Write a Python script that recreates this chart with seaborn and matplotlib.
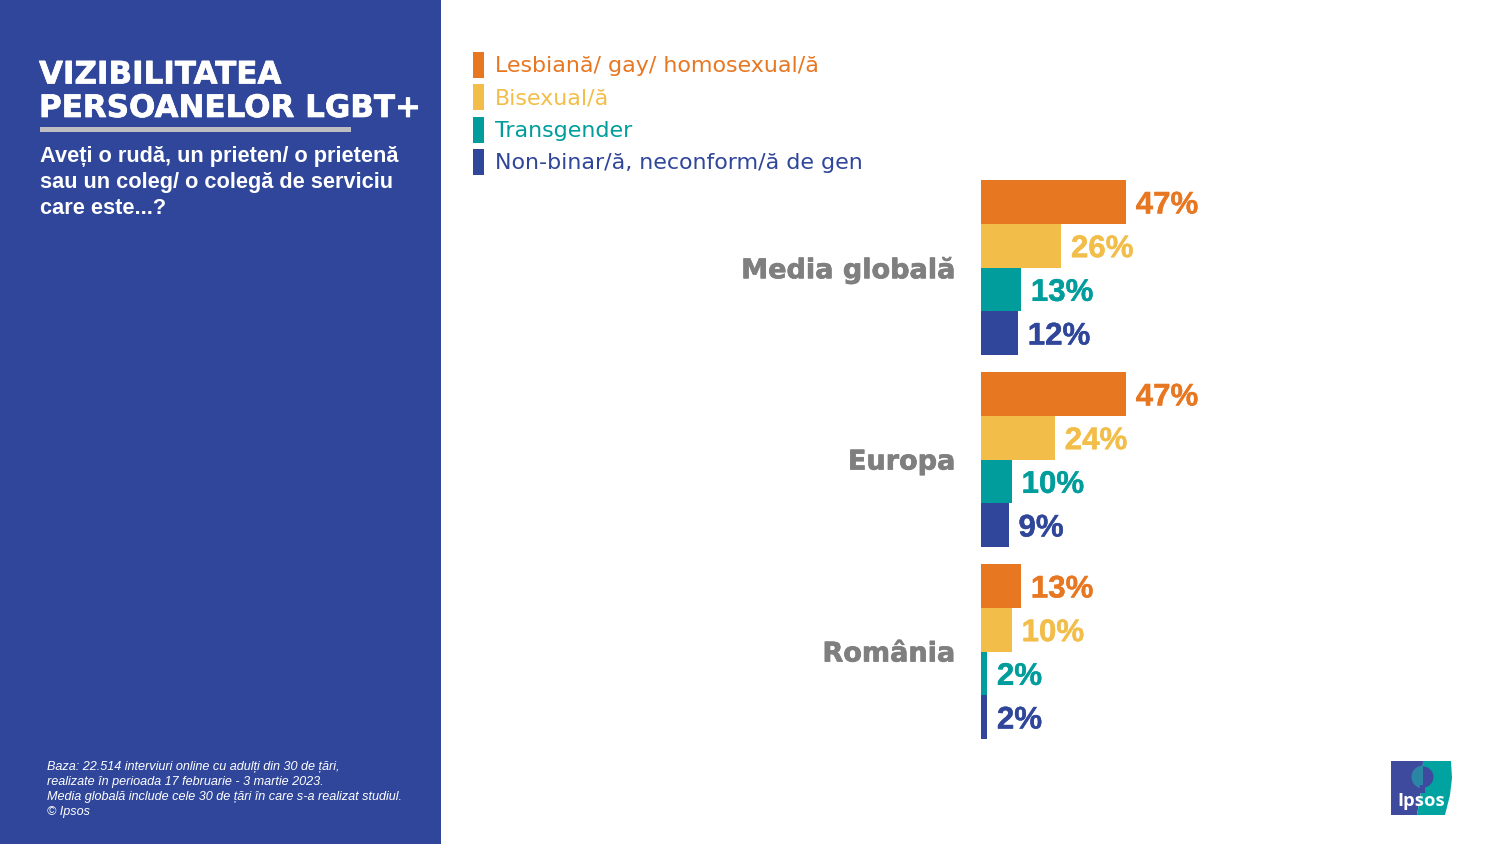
import matplotlib
matplotlib.use("Agg")
import matplotlib.pyplot as plt
import matplotlib.patheffects as pe
from matplotlib.patches import Rectangle, Polygon, Ellipse, Wedge
import pandas as pd
import seaborn as sns

regions = ["Media globală", "Europa", "România"]
identities = ["Lesbiană/ gay/ homosexual/ă", "Bisexual/ă", "Transgender", "Non-binar/ă, neconform/ă de gen"]
lesbian_gay = [47, 47, 13]
bisexual = [26, 24, 10]
transgender = [13, 10, 2]
non_binary = [12, 9, 2]
palette = ["#E87722", "#F2BE49", "#009D9C", "#2F469A"]
PANEL = "#2F469A"
GREY = "#7F7F7F"

W, H = 1500, 844
sns.set_theme(style="white")
plt.rcParams["font.family"] = ["Liberation Sans", "DejaVu Sans"]

df = pd.DataFrame({
    "region": regions * 4,
    "identity": [i for i in identities for _ in regions],
    "value": lesbian_gay + bisexual + transgender + non_binary,
})

fig = plt.figure(figsize=(15, 8.44), dpi=100, facecolor="white")

def px_axes(x0, y0, x1, y1, **kw):
    return fig.add_axes([x0 / W, 1 - y1 / H, (x1 - x0) / W, (y1 - y0) / H], **kw)

bg = px_axes(0, 0, W, H)
bg.set_xlim(0, W); bg.set_ylim(H, 0); bg.axis("off")
bg.add_patch(Rectangle((0, 0), 441, H, color=PANEL, lw=0))
bg.add_patch(Rectangle((39.5, 126.5), 311.5, 5.5, color="#BDBDC2", lw=0))

title_fx = [pe.withStroke(linewidth=0.5, foreground="white")]
for y, s in zip([72, 105.5], ["VIZIBILITATEA", "PERSOANELOR LGBT+"]):
    bg.text(39, y, s, color="white", fontsize=22.3, fontweight="bold", family="DejaVu Sans",
            va="center_baseline", path_effects=title_fx)
for y, s in zip([156.5, 182.5, 208.5], ["Aveți o rudă, un prieten/ o prietenă", "sau un coleg/ o colegă de serviciu", "care este...?"]):
    bg.text(39.5, y, s, color="white", fontsize=15.7, fontweight="bold", va="center")
for y, s in zip([767, 782, 797, 811.5], [
    "Baza: 22.514 interviuri online cu adulți din 30 de țări,",
    "realizate în perioada 17 februarie - 3 martie 2023.",
    "Media globală include cele 30 de țări în care s-a realizat studiul.",
    "© Ipsos"]):
    bg.text(47, y, s, color="white", fontsize=9.05, style="italic", va="center")

ax = px_axes(981, 171.5, 1400, 747.5)
sns.barplot(data=df, y="region", x="value", hue="identity", order=regions, hue_order=identities,
            palette=palette, width=0.91, gap=0, saturation=1, ax=ax, legend=True, linewidth=0)
ax.set_xlim(0, 419 / 3.085)
ax.set_ylim(2.5, -0.5)
ax.set_xlabel(""); ax.set_ylabel("")
ax.set_xticks([])
ax.patch.set_alpha(0)
for s in ax.spines.values():
    s.set_visible(False)
ax.tick_params(axis="y", length=0, pad=18.5)
for lab in ax.get_yticklabels():
    lab.set_color(GREY); lab.set_fontsize(19.5); lab.set_fontweight("bold"); lab.set_family("DejaVu Sans")
    lab.set_path_effects([pe.withStroke(linewidth=0.5, foreground=GREY)])

for cont, col in zip(ax.containers, palette):
    for t in ax.bar_label(cont, fmt="%d%%", padding=7, color=col, fontsize=22.5, fontweight="bold"):
        t.set_va("center_baseline")
        t.set_path_effects([pe.withStroke(linewidth=0.3, foreground=col)])

handles = ax.get_legend().legend_handles
ax.get_legend().remove()
leg = fig.legend(handles, identities, loc="upper left", bbox_to_anchor=(473 / W, 1 - 52 / H),
                 bbox_transform=fig.transFigure, frameon=False, handlelength=0.5, handleheight=1.43,
                 handletextpad=0.5, labelspacing=0.29, borderpad=0, borderaxespad=0,
                 prop={"family": "DejaVu Sans", "size": 15.9})
for txt, col in zip(leg.get_texts(), palette):
    txt.set_color(col)

# Ipsos logo
LOGO_BLUE = "#3E4A9E"
LOGO_TEAL = "#00A3A0"
bg.add_patch(Polygon([(1391, 761), (1423, 761), (1422, 785), (1417, 815), (1391, 815)], color=LOGO_BLUE, lw=0))
bg.add_patch(Polygon([(1423, 761), (1451, 761), (1452, 778), (1450, 795), (1445, 815), (1417, 815), (1422, 785)], color=LOGO_TEAL, lw=0))
bg.add_patch(Wedge((1423, 777), 11.5, 90, 270, color="#2A86A4", lw=0))
bg.add_patch(Wedge((1423, 777), 10.5, 270, 90, color=LOGO_BLUE, lw=0))
bg.add_patch(Rectangle((1420, 785), 5, 8, color=LOGO_BLUE, lw=0))
bg.text(1421, 801, "Ipsos", color="white", fontsize=13.2, fontweight="bold", family="Open Sans", ha="center", va="center")

fig.savefig("out.png", dpi=100)
